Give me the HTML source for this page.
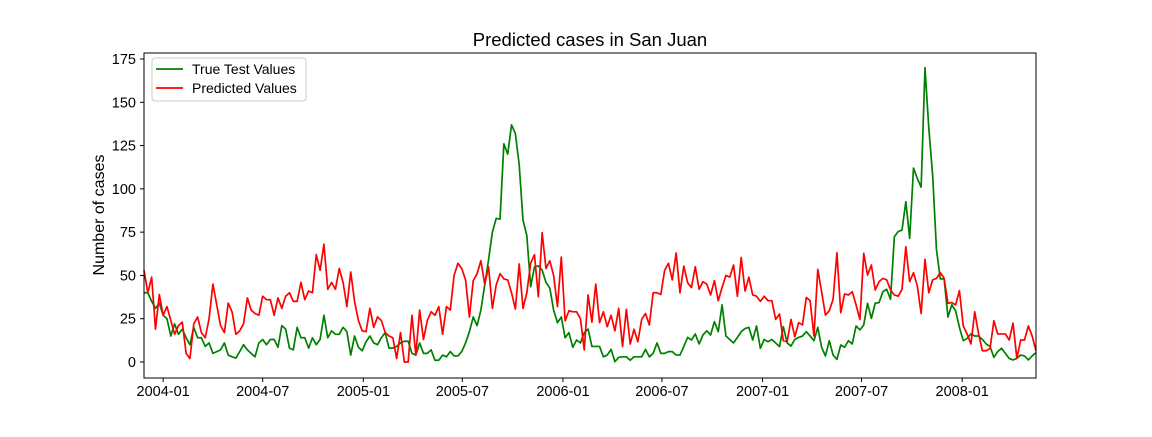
<!DOCTYPE html>
<html><head><meta charset="utf-8"><style>
body{margin:0;background:#fff;}
svg text{font-family:"Liberation Sans","DejaVu Sans",sans-serif;fill:#000;}
</style></head><body>
<svg id="chart" width="1152" height="432" xmlns="http://www.w3.org/2000/svg">
<rect width="1152" height="432" fill="#fff"/>
<text x="590" y="46" font-size="18.5" text-anchor="middle">Predicted cases in San Juan</text>
<text transform="translate(104,215) rotate(-90)" font-size="16" text-anchor="middle">Number of cases</text>
<g id="plot"></g>
</svg>
<script>
const trueValues=[40,40,35,31,34,27,25,15,22,16,19,14,10,20,14,14,9,11,5,6,7,11,4,3,2.3,6,10,7,5,3,11,13,10,13,13,8.5,21,19,8,7,
20,14,14,8,14,10,13,27,14,18,16,16,20,17.5,4,15,8.5,6.5,11.7,15,11,10,14,17,8,8,9,11,12,12,5,4,11,5,5,7,1,1,4,3,
6,3.5,3.5,6,11,17.5,26,21,30,44.5,59,75,83,82.5,126,120,137,132,114,82,73,43.5,55,55.5,53,46,42.7,30,22.7,26,14,17,8.5,12.7,11,17,19,9,9,9,3,
4,7.3,0.2,2.7,3,3,1,3,3,3,7.3,3,5,11,5,5,6,6,4,4,8.9,14.2,12.7,16.2,10.4,15.6,18,15.6,23.3,17.5,33,15,13,11,14.2,17.5,19.3,20,12.7,20.8,7.9,
13,11.7,13,11,8.9,20.4,11,9.2,13,14.2,15,17.5,15,12.3,20,8.5,3.5,12.3,4,1.5,9.8,8.5,12.3,10.4,20.8,18.5,21.4,33.9,25.2,34,34.3,40.6,42,36.2,72.4,75.3,76.2,92.6,71.4,112,106,101,
170,135,108,65,48,48,26,33,29.6,20,12.3,13.6,16.2,15,15,13,10.4,8.9,2.7,6,7.9,5,2,1.2,2.1,4,3.5,1.2,3.5,5.4];
const predValues=[53,40,49,19,39,27,32,24,16,21,23,5,2,22,26,17,14,25,45,33,21,17,34,29,16,18,22,37,30,28,27,38,36,36,27,37,31,38,40,35,
35,46,36,41,40,62,53,68,42,46,42,54,46,32,52,35,24,18,17.5,31,20,26,24,17,15,14,2,17,0,0,27,4,30,13,24,29,27,32,16,32,
30,50,57,54,47.4,26,47,51,58.5,45,55,31,44.5,51,48,47.4,40,30.6,56.6,31,40,57,62,37.7,74.7,54,58.5,50,32,60.6,23.8,29.6,29,29,25,7,38.7,23,45,22.7,29,
20.4,27,18,31,8.9,30.4,10.4,18.9,11.7,24.6,28,21.4,40,40,39,53,57,47.4,63,40,55.4,45.8,43,55,42,46.4,45,38.7,47,35.4,43,50,49,56,38,60.4,41,49,38.7,38,35,
38,35.4,35.4,24.6,27.7,12.3,11.7,24.6,14.6,22.7,21.4,37.3,35.4,15,53.5,40.6,27.1,29.6,36.2,63.1,28.5,39.3,38.7,40.6,33,24.6,62.8,50.2,56,41.6,46.4,48.3,47.4,41.6,38.7,38,
42,66.6,46.4,51.6,44,28,59.3,40,47.4,48.3,51.6,48.3,33.9,34.3,33,41.2,20.8,16.2,10.4,29,16.2,6.5,6.5,7.9,23.8,16.2,16.2,16.2,12.7,22.4,2.1,12.7,12.7,20.8,15,6.5];
const startDate="2003-11-27";
const xTickLabels=["2004-01","2004-07","2005-01","2005-07","2006-01","2006-07","2007-01","2007-07","2008-01"];
const yTickValues=[0,25,50,75,100,125,150,175];

const NS="http://www.w3.org/2000/svg";
const L=144,R=1036,T=53,B=378;
const N=trueValues.length;
const step=(R-L)/(N-1);
const t0=Date.parse(startDate);
function xIdx(i){return L+i*step;}
function xDate(s){return L+((Date.parse(s+"-01")-t0)/86400000/7)*step;}
function y(v){return 362-v*1.7314;}
const g=document.getElementById('plot');
function mk(tag,attrs){const e=document.createElementNS(NS,tag);for(const k in attrs)e.setAttribute(k,attrs[k]);g.appendChild(e);return e;}

function line(vals,color,name){
  const d=vals.map((v,i)=>(i?'L':'M')+xIdx(i).toFixed(2)+','+y(v).toFixed(2)).join('');
  const p=mk('path',{d:d,fill:'none',stroke:color,'stroke-width':1.7,'stroke-linejoin':'round'});
  
  
}
line(trueValues,'#008000','true-test-values-line');
line(predValues,'#ff0000','predicted-values-line');

const frame=mk('rect',{x:L,y:T,width:R-L,height:B-T,fill:'none',stroke:'#000','stroke-width':1});



yTickValues.forEach(v=>{
  const yy=y(v);
  const tk=mk('line',{x1:L-4,x2:L,y1:yy,y2:yy,stroke:'#000'});
  
  
  const t=mk('text',{x:L-8,y:yy+5,'font-size':14.5,'text-anchor':'end'});
  t.textContent=v;
  
  
});
xTickLabels.forEach(s=>{
  const xx=xDate(s);
  const tk=mk('line',{x1:xx,x2:xx,y1:B,y2:B+4,stroke:'#000'});
  
  
  const t=mk('text',{x:xx,y:B+18,'font-size':14.5,'text-anchor':'middle'});
  t.textContent=s;
  
  
});

const lg=mk('rect',{x:152,y:58,width:154,height:43,rx:3,fill:'#fff',stroke:'#ccc'});


[['True Test Values','#008000',69,'legend-entry-true'],['Predicted Values','#ff0000',88,'legend-entry-predicted']].forEach(a=>{
  const l=mk('line',{x1:156,x2:183,y1:a[2],y2:a[2],stroke:a[1],'stroke-width':1.7});
  
  
  const t=mk('text',{x:192,y:a[2]+5,'font-size':14});
  t.textContent=a[0];
  
  
});
</script>
</body></html>
